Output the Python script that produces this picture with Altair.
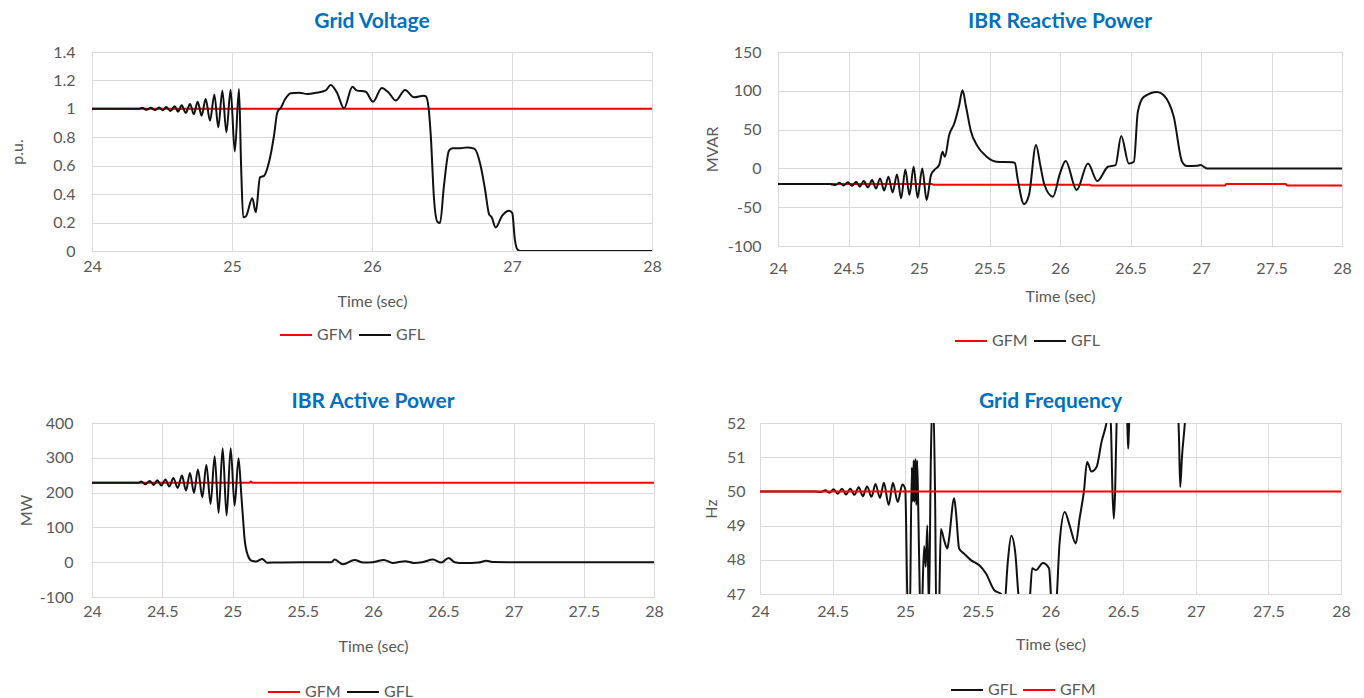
import altair as alt
import pandas as pd

# ---------------- Grid Voltage (p.u.) ----------------
gv_gfl_t = [24.0, 24.33, 24.36, 24.39, 24.42, 24.45, 24.48, 24.505, 24.53, 24.56, 24.59, 24.615,
            24.64, 24.67, 24.70, 24.727, 24.755, 24.783, 24.812, 24.843, 24.874, 24.902, 24.931,
            24.96, 24.99, 25.02, 25.05, 25.065, 25.08, 25.1, 25.145, 25.17, 25.20, 25.23, 25.264,
            25.30, 25.324, 25.35, 25.38, 25.42, 25.48, 25.54, 25.60, 25.67, 25.705, 25.75, 25.80,
            25.86, 25.89, 25.955, 26.007, 26.07, 26.12, 26.17, 26.236, 26.30, 26.37, 26.385,
            26.405, 26.42, 26.443, 26.467, 26.486, 26.514, 26.55, 26.574, 26.62, 26.68, 26.73,
            26.776, 26.807, 26.836, 26.855, 26.883, 26.93, 26.98, 27.002, 27.02, 27.04, 27.06, 28.0]
gv_gfl_v = [1.0, 1.0, 1.007, 0.993, 1.008, 0.992, 1.01, 0.99, 1.013, 0.985, 1.018, 0.98,
            1.025, 0.972, 1.035, 0.962, 1.05, 0.952, 1.069, 0.917, 1.10, 0.87, 1.128,
            0.835, 1.135, 0.70, 1.14, 0.6, 0.237, 0.245, 0.371, 0.272, 0.518, 0.53, 0.624,
            0.811, 0.976, 1.01, 1.069, 1.11, 1.113, 1.105, 1.113, 1.13, 1.168, 1.113, 1.004,
            1.156, 1.13, 1.12, 1.05, 1.147, 1.113, 1.058, 1.133, 1.081, 1.093, 1.088,
            1.0, 0.81, 0.366, 0.206, 0.197, 0.46, 0.706, 0.722, 0.722, 0.729, 0.72,
            0.60, 0.436, 0.26, 0.237, 0.166, 0.249, 0.284, 0.267, 0.084, 0.01, 0.0, 0.0]
gv_gfm_t = [24.0, 28.0]
gv_gfm_v = [1.0, 1.0]

# ---------------- IBR Reactive Power (MVAR) ----------------
rq_gfl_t = [24.0, 24.365, 24.408, 24.436, 24.465, 24.495, 24.525, 24.554, 24.58, 24.608, 24.638,
            24.667, 24.695, 24.724, 24.753, 24.783, 24.813, 24.844, 24.873, 24.903, 24.932,
            24.962, 24.99, 25.023, 25.054, 25.085, 25.108, 25.143, 25.167, 25.183, 25.214, 25.25,
            25.285, 25.309, 25.333, 25.368, 25.41, 25.48, 25.55, 25.663, 25.68, 25.699, 25.745,
            25.78, 25.83, 25.86, 25.89, 25.95, 26.0, 26.04, 26.118, 26.198, 26.265, 26.34, 26.394,
            26.434, 26.488, 26.524, 26.552, 26.594, 26.69, 26.736, 26.807, 26.866, 26.9, 26.97,
            26.996, 27.043, 28.0]
rq_gfl_v = [-20.0, -20.0, -21.5, -18.4, -22.0, -18.0, -22.5, -17.1, -23.5, -16.3, -24.5,
            -15.0, -26.0, -12.9, -28.5, -10.7, -31.0, -7.7, -38.6, -1.3, -34.3,
            2.1, -37.7, 0.0, -40.7, -8.6, -2.1, 4.3, 21.4, 15.0, 42.9, 57.9,
            81.5, 100.8, 80.0, 48.0, 30.0, 15.0, 8.6, 8.0, 7.0, -12.9, -46.0,
            -34.3, 30.0, 4.3, -21.4, -36.4, -6.4, 9.4, -27.9, 6.4, -16.3, 2.1, 4.3,
            41.6, 6.4, 8.6, 72.9, 92.2, 98.6, 94.3, 66.4, 8.6, 3.0, 3.4,
            4.3, 0.0, 0.0]
rq_gfm_t = [24.0, 25.09, 25.1, 26.21, 26.22, 27.17, 27.18, 27.6, 27.61, 28.0]
rq_gfm_v = [-20.0, -20.0, -21.0, -21.0, -22.0, -22.0, -20.0, -20.0, -22.0, -22.0]

# ---------------- IBR Active Power (MW) ----------------
ap_gfl_t = [24.0, 24.33, 24.351, 24.38, 24.41, 24.439, 24.465, 24.493, 24.522, 24.55, 24.579,
            24.61, 24.64, 24.669, 24.697, 24.726, 24.754, 24.785, 24.814, 24.844, 24.873,
            24.901, 24.93, 24.958, 24.987, 25.015, 25.043, 25.063, 25.075, 25.086, 25.11,
            25.134, 25.17, 25.212, 25.248, 25.3, 25.5, 25.703, 25.727, 25.786, 25.869, 25.93,
            26.0, 26.078, 26.14, 26.23, 26.29, 26.35, 26.427, 26.486, 26.538, 26.58, 26.65,
            26.75, 26.806, 26.86, 27.0, 28.0]
ap_gfl_v = [228, 228, 231.6, 224, 233.6, 222, 235.6, 220.2, 237.4, 217.4, 242.2,
            213.5, 248.9, 205.8, 256.6, 199.1, 266.2, 186.8, 279.6, 167.5, 304.6,
            141.7, 327.6, 133.9, 327.6, 162.6, 298.9, 191.4, 124.4, 67, 19,
            4.6, 2, 9.5, -1.5, -1, 0, 0, 7.5, -5.8, 6.5, -1,
            0, 6.5, -2, 3, -2, 0, 7.5, -1, 12.4, 0, -2.5,
            -1, 4, 0.5, 0, 0]
ap_gfm_t = [24.0, 25.12, 25.13, 25.14, 28.0]
ap_gfm_v = [228, 228, 232, 228, 228]

# ---------------- Grid Frequency (Hz) ----------------
gf_gfl_t = [24.0, 24.38, 24.42, 24.45, 24.477, 24.507, 24.535, 24.565, 24.592, 24.622, 24.65,
            24.68, 24.708, 24.737, 24.768, 24.795, 24.826, 24.853, 24.886, 24.915, 24.948,
            24.98, 25.0, 25.014, 25.03, 25.045, 25.052, 25.058, 25.064, 25.07, 25.076, 25.082,
            25.09, 25.1, 25.11, 25.13, 25.141, 25.152, 25.163, 25.176, 25.19, 25.205, 25.215,
            25.232, 25.245, 25.268, 25.29, 25.30, 25.337, 25.35, 25.371, 25.405, 25.452, 25.51,
            25.556, 25.613, 25.66, 25.683, 25.705, 25.73, 25.758, 25.78, 25.80, 25.855, 25.874,
            25.9, 25.948, 25.99, 26.005, 26.035, 26.063, 26.098, 26.132, 26.174, 26.2, 26.23,
            26.252, 26.282, 26.317, 26.351, 26.386, 26.40, 26.415, 26.427, 26.436, 26.445,
            26.455, 26.47, 26.52, 26.53, 26.535, 26.54, 26.55, 26.87, 26.885, 26.893, 26.905,
            26.925, 26.94, 26.97]
gf_gfl_v = [50.0, 50.0, 49.98, 50.03, 49.96, 50.06, 49.93, 50.08, 49.91, 50.08, 49.9,
            50.12, 49.86, 50.14, 49.84, 50.22, 49.81, 50.25, 49.6, 50.25, 49.69,
            50.2, 50.07, 47.0, 45.8, 50.7, 49.7, 50.9, 49.7, 50.95, 49.6, 50.9,
            49.4, 47.0, 46.0, 48.4, 47.8, 49.0, 46.5, 50.9, 53.0, 50.0, 46.0,
            46.5, 48.9, 48.57, 48.33, 48.57, 49.8, 49.35, 48.33, 48.18, 47.99, 47.84,
            47.6, 47.11, 47.0, 46.7, 47.89, 48.7, 48.18, 46.95, 46.5, 46.8, 47.75,
            47.7, 47.91, 47.75, 46.9, 46.6, 48.52, 49.4, 49.0, 48.48, 49.2, 50.0,
            50.86, 50.58, 50.71, 51.44, 52.02, 52.4, 52.0, 49.95, 49.2, 50.0,
            52.0, 53.0, 53.0, 51.8, 51.25, 51.8, 53.0, 53.0, 51.5, 50.13, 51.0,
            52.0, 53.0, 53.5]
gf_gfm_t = [24.0, 28.0]
gf_gfm_v = [50.0, 50.0]

# ---------------- axes ----------------
x_ticks_1 = [24, 25, 26, 27, 28]
x_ticks_half = [24, 24.5, 25, 25.5, 26, 26.5, 27, 27.5, 28]
gv_ticks = [0, 0.2, 0.4, 0.6, 0.8, 1, 1.2, 1.4]
rq_ticks = [-100, -50, 0, 50, 100, 150]
ap_ticks = [-100, 0, 100, 200, 300, 400]
gf_ticks = [47, 48, 49, 50, 51, 52]

RED = "#ff0000"
BLACK = "#111111"
FONT = "Lato"
GREY = "#595959"
GRID = "#d9d9d9"
BLUE = "#0070C0"
COLORS = {"GFM": RED, "GFL": BLACK}


def panel(title, series, order, ydom, yvals, ytitle, xvals, w, h, title_off,
          ytx, ext, ylabpad, xlabpad, xty, lx, ly):
    color = alt.Color(
        "series:N",
        scale=alt.Scale(domain=order, range=[COLORS[s] for s in order]),
        legend=alt.Legend(orient="none", legendX=lx, legendY=ly, direction="horizontal",
                          title=None, symbolType="stroke", symbolSize=1024,
                          symbolStrokeWidth=2, labelFontSize=16, labelFont=FONT,
                          labelColor=GREY, columnPadding=2, labelOffset=4),
    )
    x = alt.X("t:Q", scale=alt.Scale(domain=[24, 28], nice=False, zero=False),
              axis=alt.Axis(values=xvals, title="Time (sec)", grid=True, gridColor=GRID,
                            domain=False, ticks=False, labelPadding=xlabpad,
                            labelFlush=False, labelOverlap=False,
                            labelExpr="'' + datum.value", titleY=xty,
                            titleBaseline="middle"))
    y = alt.Y("v:Q", scale=alt.Scale(domain=ydom, nice=False, zero=False),
              axis=alt.Axis(values=yvals, title=ytitle, grid=True, gridColor=GRID,
                            domain=False, ticks=False, labelPadding=ylabpad,
                            labelFlush=False, labelOverlap=False,
                            labelExpr="'' + datum.value", titleX=ytx, titleY=h / 2,
                            titleBaseline="middle", titleAlign="center", minExtent=ext))
    layers = []
    for s in order:
        t, v = series[s]
        df = pd.DataFrame({"t": t, "v": v, "series": [s] * len(t)})
        layers.append(
            alt.Chart(df).mark_line(clip=True, strokeWidth=2, interpolate="monotone")
            .encode(x=x, y=y, color=color)
        )
    return alt.layer(*layers).properties(
        width=w, height=h,
        title=alt.TitleParams(text=title, fontSize=21, font=FONT, fontWeight="bold",
                              color=BLUE, anchor="middle", offset=title_off),
    )


A = panel("Grid Voltage", {"GFL": (gv_gfl_t, gv_gfl_v), "GFM": (gv_gfm_t, gv_gfm_v)},
          ["GFM", "GFL"], [0, 1.4], gv_ticks, "p.u.", x_ticks_1, 560, 199, 12,
          -75, 78, 17, 7, 50, 187, 266)
B = panel("IBR Reactive Power", {"GFL": (rq_gfl_t, rq_gfl_v), "GFM": (rq_gfm_t, rq_gfm_v)},
          ["GFM", "GFL"], [-100, 150], rq_ticks, "MVAR", x_ticks_half, 564, 194, 12,
          -66, 74, 17, 14, 50, 176, 272)
C = panel("IBR Active Power", {"GFL": (ap_gfl_t, ap_gfl_v), "GFM": (ap_gfm_t, ap_gfm_v)},
          ["GFM", "GFL"], [-100, 400], ap_ticks, "MW", x_ticks_half, 562, 174, 3,
          -66, 76, 19, 6, 49, 175, 252)
D = panel("Grid Frequency", {"GFL": (gf_gfl_t, gf_gfl_v), "GFM": (gf_gfm_t, gf_gfm_v)},
          ["GFL", "GFM"], [47, 52], gf_ticks, "Hz", x_ticks_half, 581, 171, 3,
          -49, 57, 15, 9, 50, 190, 250)

row1 = alt.hconcat(A, B, spacing=41).resolve_scale(color="independent").resolve_legend(color="independent")
row2 = alt.hconcat(C, D, spacing=38).resolve_scale(color="independent").resolve_legend(color="independent")

chart = alt.vconcat(row1, row2, spacing=40).resolve_scale(
    color="independent").resolve_legend(color="independent").properties(
    padding={"left": 0, "top": 2, "right": 0, "bottom": 0},
).configure(font=FONT).configure_view(stroke=GRID, strokeWidth=1).configure_axis(
    labelFont=FONT, labelFontSize=16, labelColor=GREY, titleFont=FONT, titleFontSize=16,
    titleColor=GREY, titleFontWeight="normal", gridWidth=1,
).configure_legend(labelFont=FONT)

chart.save("out.html", embed_options={"renderer": "svg", "actions": False})
